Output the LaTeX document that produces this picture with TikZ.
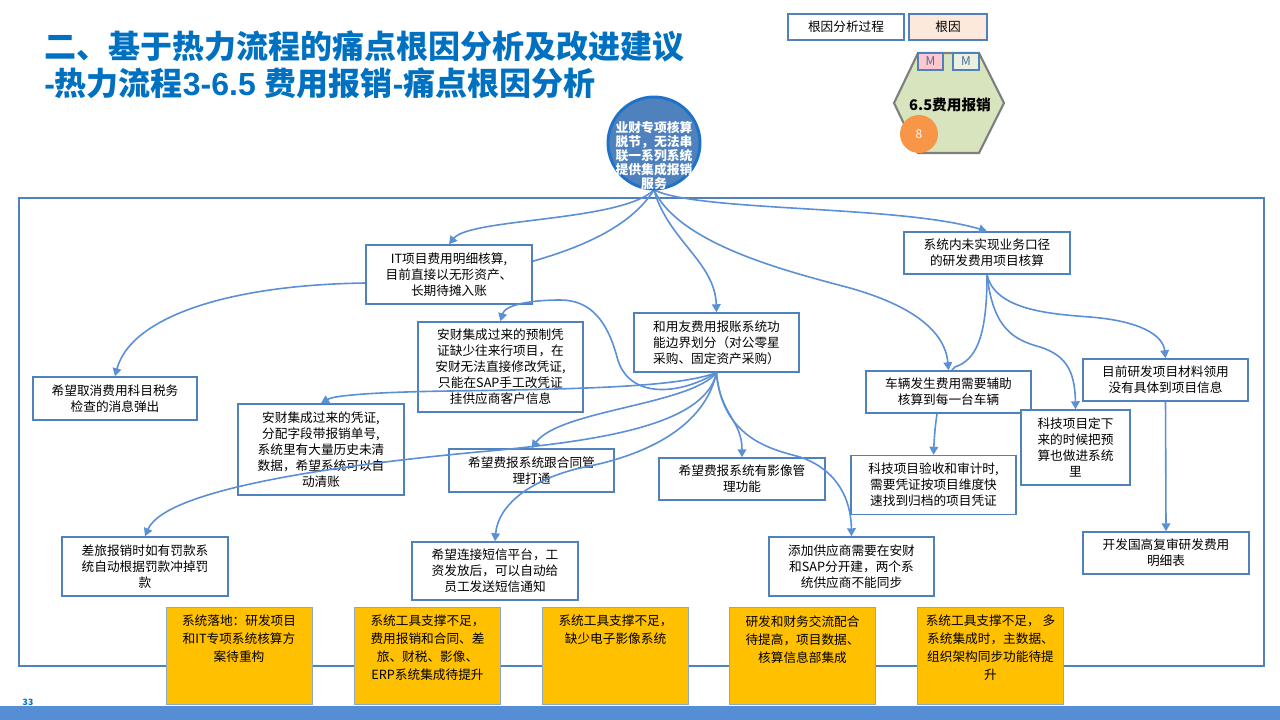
\documentclass[tikz,border=0pt]{standalone}
\usepackage{fontspec}
\setmainfont{Noto Sans CJK SC}
\newfontfamily\latinb{Liberation Sans}
\usetikzlibrary{arrows.meta}
\definecolor{titleblue}{HTML}{0070C0}
\definecolor{boxline}{HTML}{4F81BD}
\definecolor{connC}{HTML}{5B8FD6}
\definecolor{frameblue}{HTML}{4F81BD}
\definecolor{rootfill}{HTML}{4F81BD}
\definecolor{rootline}{HTML}{1F72C8}
\definecolor{yel}{HTML}{FFC000}
\definecolor{ylineC}{HTML}{8FA6C6}
\definecolor{peach}{HTML}{FCE9DC}
\definecolor{hexfill}{HTML}{D7E4BD}
\definecolor{hexline}{HTML}{7F7F7F}
\definecolor{orangeC}{HTML}{F79646}
\definecolor{pinkM}{HTML}{FFC7CE}
\definecolor{greenM}{HTML}{EBF1DE}
\definecolor{mtext}{HTML}{4A6C9B}
\definecolor{barblue}{HTML}{558ED5}
\begin{document}
\begin{tikzpicture}[x=0.75pt,y=-0.75pt,
  bsz/.style 2 args={minimum width=#1*0.75pt, minimum height=#2*0.75pt},
  wbox/.style={draw=boxline, line width=1.1pt, fill=white, align=center, inner sep=0pt,
    font=\fontsize{9.5pt}{12pt}\selectfont, text=black},
  ybox/.style={draw=ylineC, line width=0.6pt, fill=yel, inner sep=0pt},
  ytext/.style={anchor=north, align=center, inner sep=0pt, font=\fontsize{9.5pt}{13.5pt}\selectfont, text=black},
  conn/.style={draw=connC, line width=1.2pt, -{Triangle[length=6pt,width=6.5pt]}}
]
\useasboundingbox (0,0) rectangle (1280,720);

% title
\node[anchor=west, text=titleblue, inner sep=0pt, font=\fontsize{24pt}{28pt}\selectfont\bfseries] (t1) at (44,46) {二、基于热力流程的痛点根因分析及改进建议};
\node[anchor=west, text=titleblue, inner sep=0pt, font=\fontsize{24pt}{28pt}\selectfont\bfseries] (t2) at (44,83) {{\latinb -}热力流程{\latinb 3-6.5 }费用报销{\latinb -}痛点根因分析};

% legend
\node[draw=boxline, line width=0.9pt, fill=white, bsz={116}{26}, inner sep=0pt, font=\fontsize{9.5pt}{12pt}\selectfont] (lg1) at (846,27) {根因分析过程};
\node[draw=boxline, line width=0.9pt, fill=peach, bsz={78}{26}, inner sep=0pt, font=\fontsize{9.5pt}{12pt}\selectfont] (lg2) at (948,27) {根因};

% hexagon
\draw[draw=hexline, line width=1.6pt, fill=hexfill] (918,53) -- (979,53) -- (1004,103) -- (979,153) -- (918,153) -- (894,103) -- cycle;
\node[draw=boxline, line width=0.8pt, fill=pinkM, bsz={25}{17}, inner sep=0pt, text=mtext, font=\fontsize{9pt}{10pt}\selectfont] (m1) at (930.5,61.5) {M};
\node[draw=boxline, line width=0.8pt, fill=greenM, bsz={26}{17}, inner sep=0pt, text=mtext, font=\fontsize{9pt}{10pt}\selectfont] (m2) at (966,61.5) {M};
\node[inner sep=0pt, font=\fontsize{11pt}{12pt}\selectfont\bfseries] (hexl) at (950,105) {6.5费用报销};
\node[circle, fill=orangeC, minimum size=38*0.75pt, inner sep=0pt, text=white, font=\fontsize{9pt}{10pt}\selectfont] (c8) at (919,134) {8};

% frame
\draw[frameblue, line width=2.2pt] (19,198) rectangle (1264,666);

% nodes that hide connectors passing behind them are drawn after those connectors
\coordinate (rs) at (654,190);
\node[wbox, bsz={166}{42}] (D) at (987,253) {系统内未实现业务口径\\的研发费用项目核算};
\node[wbox, bsz={164}{43}] (E) at (115,398.5) {希望取消费用科目税务\\检查的消息弹出};
\node[wbox, bsz={165}{59}] (N) at (933.5,485) {科技项目验收和审计时,\\需要凭证按项目维度快\\速找到归档的项目凭证};

\draw[conn] (rs) .. controls (625,235) and (560,255) .. (500,270) .. controls (440,285) and (400,283) .. (366,283) .. controls (220,285) and (130,320) .. (E.north);
\draw[conn] (D.south) .. controls (987,340) and (975,360) .. (955,367) .. controls (940,380) and (935,420) .. (N.north);

\node[wbox, bsz={166}{59}] (A) at (449,274.5) {IT项目费用明细核算,\\目前直接以无形资产、\\长期待摊入账};
\node[wbox, bsz={165}{42}] (K) at (948.5,392) {车辆发生费用需要辅助\\核算到每一台车辆};

% other boxes
\node[wbox, bsz={165}{90}] (B) at (500.5,367) {安财集成过来的预制凭\\证缺少往来行项目，在\\安财无法直接修改凭证,\\只能在SAP手工改凭证\\挂供应商客户信息};
\node[wbox, bsz={165}{59}] (C) at (716.5,342.5) {和用友费用报账系统功\\能边界划分（对公零星\\采购、固定资产采购）};
\node[wbox, bsz={166}{91}] (F) at (321,449.5) {安财集成过来的凭证,\\分配字段带报销单号,\\系统里有大量历史未清\\数据，希望系统可以自\\动清账};
\node[wbox, bsz={166}{59}] (G) at (145,566.5) {差旅报销时如有罚款系\\统自动根据罚款冲掉罚\\款};
\node[wbox, bsz={165}{43}] (H) at (531.5,470.5) {希望费报系统跟合同管\\理打通};
\node[wbox, bsz={166}{42}] (I) at (742,479) {希望费报系统有影像管\\理功能};
\node[wbox, bsz={166}{58}] (J) at (495,571) {希望连接短信平台，工\\资发放后，可以自动给\\员工发送短信通知};
\node[wbox, bsz={165}{42}] (L) at (1165.5,380) {目前研发项目材料领用\\没有具体到项目信息};
\node[wbox, bsz={109}{75}] (M) at (1075.5,447.5) {科技项目定下\\来的时候把预\\算也做进系统\\里};
\node[wbox, bsz={165}{59}] (O) at (851.5,566.5) {添加供应商需要在安财\\和SAP分开建，两个系\\统供应商不能同步};
\node[wbox, bsz={166}{42}] (P) at (1166,553) {开发国高复审研发费用\\明细表};

% connectors from root
\draw[conn] (rs) .. controls (620,222) and (470,218) .. (A.north);
\draw[conn] (rs) .. controls (668,240) and (715,262) .. (C.north);
\draw[conn] (rs) .. controls (700,212) and (900,205) .. (D.north);
\draw[conn] (rs) .. controls (680,245) and (790,272) .. (850,288) .. controls (910,305) and (945,330) .. (K.north);

% connectors from D
\draw[conn] (D.south) .. controls (993,330) and (1015,340) .. (1040,347) .. controls (1065,355) and (1075,370) .. (M.north);
\draw[conn] (D.south) .. controls (995,310) and (1050,314) .. (1090,317) .. controls (1140,321) and (1163,335) .. (L.north);
\draw[conn] (L.south) -- (P.north);

% connectors from C
\draw[conn] (C.south) .. controls (680,395) and (628,400) .. (617,357) .. controls (607,320) and (590,300) .. (560,300) .. controls (530,300) and (505,305) .. (B.north);
\draw[conn] (C.south) .. controls (680,386) and (600,389) .. (450,391) .. controls (380,392) and (335,395) .. (F.north);
\draw[conn] (C.south) .. controls (690,405) and (560,410) .. (H.north);
\draw[conn] (C.south) .. controls (705,425) and (600,440) .. (500,450) .. controls (330,465) and (165,490) .. (G.north);
\draw[conn] (C.south) .. controls (705,425) and (650,455) .. (580,468) .. controls (530,480) and (498,505) .. (J.north);
\draw[conn] (C.south) .. controls (720,415) and (742,420) .. (I.north);
\draw[conn] (C.south) .. controls (722,440) and (775,450) .. (800,457) .. controls (838,470) and (851,500) .. (O.north);

% root circle
\node[circle, draw=rootline, line width=2.2pt, fill=rootfill, minimum size=92*0.75pt, inner sep=0pt] (root) at (654,143) {};
\node[align=center, inner sep=0pt, text=white, font=\fontsize{9.6pt}{10.5pt}\selectfont\bfseries] (roottxt) at (654,156) {业财专项核算\\脱节，无法串\\联一系列系统\\提供集成报销\\服务};

% yellow root-cause boxes
\node[ybox, bsz={146}{97}] (Y1) at (239,655.5) {};
\node[ybox, bsz={146}{97}] (Y2) at (427.5,655.5) {};
\node[ybox, bsz={146}{97}] (Y3) at (615.5,655.5) {};
\node[ybox, bsz={146}{97}] (Y4) at (802.5,655.5) {};
\node[ybox, bsz={146}{97}] (Y5) at (990.5,655.5) {};
\node[ytext] (Y1t) at (239,615) {系统落地：研发项目\\和IT专项系统核算方\\案待重构};
\node[ytext] (Y2t) at (427.5,615) {系统工具支撑不足，\\费用报销和合同、差\\旅、财税、影像、\\ERP系统集成待提升};
\node[ytext] (Y3t) at (615.5,615) {系统工具支撑不足，\\缺少电子影像系统};
\node[ytext] (Y4t) at (802.5,615) {研发和财务交流配合\\待提高，项目数据、\\核算信息部集成};
\node[ytext] (Y5t) at (990.5,615) {系统工具支撑不足， 多\\系统集成时，主数据、\\组织架构同步功能待提\\升};

% bottom bar and page number
\fill[barblue] (0,706) rectangle (1280,720);
\node[text=titleblue, inner sep=0pt, font=\fontsize{6.5pt}{7pt}\selectfont\bfseries] (pg) at (28,702) {33};
\end{tikzpicture}
\end{document}
